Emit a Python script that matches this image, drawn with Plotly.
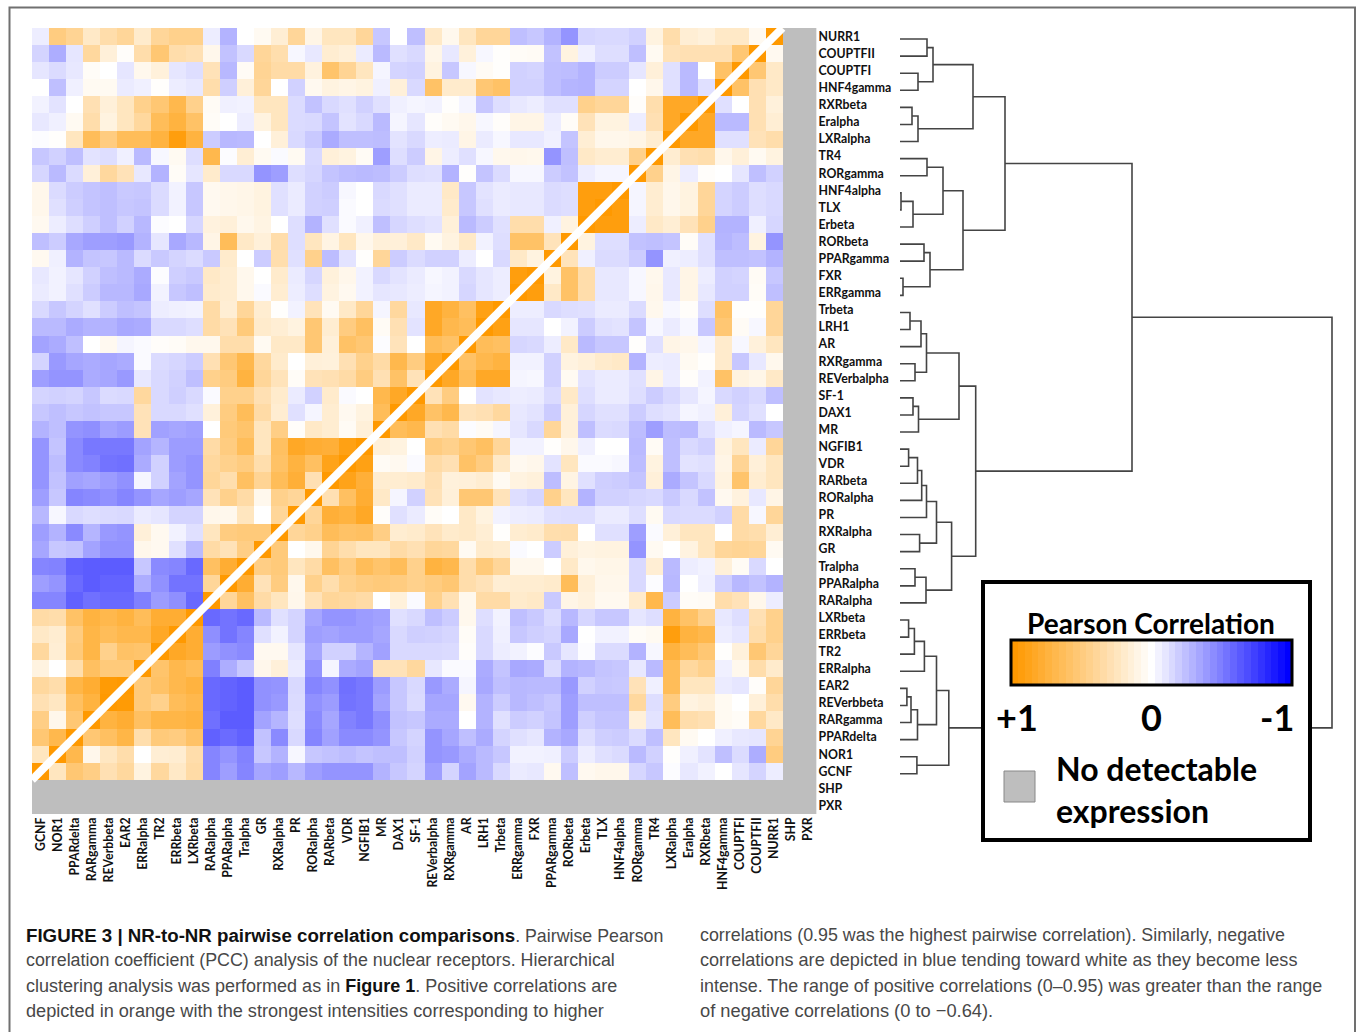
import plotly.graph_objects as go

# ---------- data ----------
row_labels = ["NURR1","COUPTFII","COUPTFI","HNF4gamma","RXRbeta","Eralpha","LXRalpha","TR4","RORgamma",
 "HNF4alpha","TLX","Erbeta","RORbeta","PPARgamma","FXR","ERRgamma","Trbeta","LRH1","AR","RXRgamma",
 "REVerbalpha","SF-1","DAX1","MR","NGFIB1","VDR","RARbeta","RORalpha","PR","RXRalpha","GR","Tralpha",
 "PPARalpha","RARalpha","LXRbeta","ERRbeta","TR2","ERRalpha","EAR2","REVerbbeta","RARgamma","PPARdelta",
 "NOR1","GCNF","SHP","PXR"]
col_labels = ["GCNF","NOR1","PPARdelta","RARgamma","REVerbbeta","EAR2","ERRalpha","TR2","ERRbeta","LXRbeta",
 "RARalpha","PPARalpha","Tralpha","GR","RXRalpha","PR","RORalpha","RARbeta","VDR","NGFIB1","MR","DAX1","SF-1",
 "REVerbalpha","RXRgamma","AR","LRH1","Trbeta","ERRgamma","FXR","PPARgamma","RORbeta","Erbeta","TLX",
 "HNF4alpha","RORgamma","TR4","LXRalpha","Eralpha","RXRbeta","HNF4gamma","COUPTFI","COUPTFII","NURR1","SHP","PXR"]

# correlation x100, upper-left triangle, read row by row (mirrored across the diagonal)
tri = [
 [-7,50,42,22,33,40,20,40,45,45,-7,-30,0,5,17,40,10,25,25,40,-22,0,-25,22,7,25,40,40,-25,-22,-30,-42,-16,-15,-15,-18,12,33,17,14,22,22,6],
 [-17,-32,-10,38,15,2,33,55,33,30,8,-24,-15,40,32,-3,-9,18,15,-8,-27,-12,-15,9,-9,14,-3,1,3,4,-24,12,-6,-13,-13,-25,5,28,30,30,30,55],
 [-10,-14,-9,3,0,-10,7,14,-10,-13,28,-28,4,42,35,35,13,58,42,25,-4,-17,-18,12,-22,-3,4,1,-18,-17,-25,-26,-30,-20,-20,-10,15,-12,-27,0,60],
 [0,-25,-6,5,5,-8,-6,1,-7,-9,33,-19,15,40,0,-18,6,12,10,12,-6,15,-15,60,20,20,55,60,-18,-18,-25,-29,-30,-17,-17,0,8,-12,-27,-12],
 [-5,-11,0,30,15,25,45,55,70,45,4,-6,-5,25,25,-14,-24,-15,-12,-18,-12,-6,-4,-5,1,-4,-22,-13,-9,-7,-12,-12,45,40,40,2,32,85,85],
 [-9,-6,5,33,12,25,38,65,75,60,3,0,-7,12,25,-14,-15,-23,-11,-15,-27,-4,-10,2,5,8,-3,2,10,10,-7,3,28,12,12,-7,30,85],
 [-1,1,25,65,50,65,65,75,95,75,-20,-28,-27,0,15,-15,-21,-33,-25,-25,-26,-11,-15,-7,-8,10,-8,-3,-9,-9,-6,-23,17,8,8,10,18],
 [-22,-18,-25,-11,-13,-6,-27,-3,5,-13,70,-1,17,5,-2,5,-15,15,12,4,-38,-13,-20,10,-7,-12,-3,7,8,7,-42,-25,22,18,18,45],
 [-16,-27,-14,15,38,28,-9,-30,3,-10,20,-15,-15,-42,-38,-13,-16,-23,-26,-27,-26,-20,-13,-12,-30,1,-23,-14,-3,-3,-20,-24,-7,-4,-4],
 [8,-14,-20,-23,-25,-21,-22,-14,-5,-22,6,8,9,12,-12,-8,-18,-20,-3,0,-15,-12,-8,-8,22,-22,-11,-8,-9,-9,-14,-13,95,95],
 [8,-12,-19,-23,-25,-22,-23,-14,-5,-22,6,8,9,12,-12,-8,-18,-19,-2,0,-14,-12,-8,-8,20,-22,-12,-8,-9,-9,-14,-13,95],
 [6,-7,-13,-19,-25,-18,-28,-1,0,-16,13,15,7,11,0,-13,-30,-12,-2,-6,-25,-16,-13,-11,15,-27,-20,-12,33,33,-6,12],
 [-25,-20,-34,-38,-38,-40,-30,-10,-34,-28,10,65,22,15,33,-13,25,11,25,8,15,15,22,5,12,22,-5,-13,60,60,27],
 [6,-6,-30,-23,-22,-27,-14,-21,-17,-14,-21,20,0,-20,32,-12,45,-26,-11,1,40,-20,-14,-18,-18,-7,0,-15,22,12],
 [-9,-5,-10,-18,-25,-27,-33,-1,-19,-21,22,18,7,0,20,-8,-16,14,8,-5,-15,-11,-8,-3,-5,-15,-10,-7,95],
 [-8,-5,-12,-20,-28,-28,-34,-5,-22,-25,20,18,7,-2,18,-7,-13,12,6,-5,-10,-9,-7,-4,-5,-16,-10,-7],
 [-15,-22,-17,-12,-20,-25,-23,-7,-6,-5,35,17,40,18,1,-5,27,5,22,40,-4,38,-9,85,75,62,92],
 [-27,-27,-33,-30,-30,-34,-33,-15,-15,-13,35,28,52,20,17,12,55,18,50,62,4,30,-11,85,70,65],
 [-36,-33,-25,0,6,-4,-2,2,3,7,7,33,33,5,22,22,55,15,60,55,-1,27,0,65,60],
 [-17,-40,-35,-33,-35,-33,-2,-14,-16,-20,30,55,70,38,20,0,15,14,30,45,35,70,50,85],
 [-38,-42,-42,-33,-35,-40,-9,-15,-18,-25,45,50,75,40,27,3,28,30,35,50,30,60,28],
 [-17,-18,-17,-22,-14,-15,38,-15,-19,-15,-2,45,45,30,20,-8,-18,20,-2,0,70,85],
 [-22,-25,-22,-24,-22,-22,28,-15,-15,-12,14,50,65,35,18,-12,-4,18,6,12,65],
 [-30,-25,-42,-44,-36,-39,28,-37,-35,-37,0,52,58,25,48,2,22,18,4,15],
 [-42,-23,-46,-53,-53,-53,-36,-29,-39,-39,35,50,65,25,62,85,80,78,92],
 [-42,-26,-46,-49,-55,-56,-33,-18,-39,-42,38,45,50,32,60,75,62,90],
 [-42,-24,-37,-35,-39,-43,-4,-18,-36,-42,40,32,62,42,65,78,30],
 [-38,-22,-48,-46,-43,-48,-42,-35,-38,-35,28,45,35,7,45,40],
 [-28,-3,-15,-13,-14,-15,-8,-10,-17,-17,8,7,25,0,40],
 [-38,-30,-46,-29,-40,-42,15,6,-5,-12,25,50,52,52],
 [-35,-22,-24,-36,-43,-43,8,6,-12,-27,35,28,48],
 [-48,-49,-62,-64,-64,-64,-22,-46,-48,-59,62,80],
 [-38,-42,-58,-64,-61,-61,-32,-43,-55,-55,40],
 [-48,-48,-62,-56,-59,-59,-50,-39,-44,-59],
 [35,33,60,75,70,75,65,80,80],
 [22,18,50,72,65,70,70,85],
 [38,17,52,72,45,60,58],
 [12,0,32,62,52,52],
 [38,33,72,80,98],
 [30,24,62,75],
 [48,8,55],
 [55,70],
 [25],
 [],
]

# dendrogram: (child a, child b, merge height); ints are leaf rows, strings are earlier merges
merges = {
 "A":(0,1,27),"B":(2,3,18),"C":("A","B",33),"D":(4,5,12),"E":("D",6,18),"F":("C","E",73),
 "G":(7,8,27),"H":(9,10,1),"I":("H",11,13),"J":("G","I",43),"K":(12,13,24),"L":(14,15,3),
 "M":("K","L",30),"N":("J","M",63),"O":("F","N",105),
 "P":(16,17,10),"Q":("P",18,21),"R":(19,20,15),"S":("Q","R",26.5),"T":(21,22,13),"U":("T",23,18.5),
 "V":("S","U",59),"W":(24,25,8.6),"X":("W",26,17.5),"Y":("X",27,21.7),"Z":("Y",28,26.5),
 "AA":(29,30,19.6),"AB":("Z","AA",36.5),"AC":(31,32,15),"AD":("AC",33,26),"AE":("AB","AD",51.6),
 "AF":("V","AE",75.7),"AG":("O","AF",232),
 "AH":(34,35,8.6),"AI":("AH",36,14.4),"AJ":("AI",37,24.4),"AK":(38,39,6.9),"AL":("AK",40,11),
 "AM":("AL",41,17.5),"AN":("AJ","AM",36.5),"AO":(42,43,16.9),"AP":("AN","AO",48.8),"AQ":("AG","AP",432),
}

legend_steps = [100,95,90,85,80,75,70,65,60,55,50,45,40,35,30,25,20,15,10,5,0,
                -5,-10,-15,-20,-25,-30,-35,-40,-45,-50,-55,-60,-65,-70,-75,-80,-85,-90,-95,-100]

caption_left = [
 [("FIGURE 3 | NR-to-NR pairwise correlation comparisons", True, 18.7), (". Pairwise Pearson", False, 17.8)],
 [("correlation coefficient (PCC) analysis of the nuclear receptors. Hierarchical", False, 17.85)],
 [("clustering analysis was performed as in ", False, 18), ("Figure 1", True, 18), (". Positive correlations are", False, 18)],
 [("depicted in orange with the strongest intensities corresponding to higher", False, 18.15)],
]
caption_right = [
 ("correlations (0.95 was the highest pairwise correlation). Similarly, negative", 17.85),
 ("correlations are depicted in blue tending toward white as they become less", 18.1),
 ("intense. The range of positive correlations (0–0.95) was greater than the range", 17.9),
 ("of negative correlations (0 to −0.64).", 18.3),
]

# ---------- layout helpers ----------
W, H = 1357, 1032
def px(x): return x / W
def py(y): return 1 - y / H

N = len(row_labels)
M = 44
z = [[None] * N for _ in range(N)]
for r, vals in enumerate(tri):
    z[r][M - 1 - r] = 100
    for c, v in enumerate(vals):
        z[r][c] = v
        z[M - 1 - c][M - 1 - r] = v

ORANGE = "#FF9900"
scale = [[0, "#0000FF"], [0.5, "#FFFFFF"], [1, ORANGE]]
GREY = "#BEBEBE"
LABEL_FONT = dict(family="Lato", size=12.3, color="#111111", weight="bold")

fig = go.Figure()
fig.add_trace(go.Heatmap(z=z, x=list(range(N)), y=list(range(N)), colorscale=scale, zmin=-100, zmax=100,
                         showscale=False, hoverongaps=False))

# dendrogram
pos = {}
xs, ys = [], []
def place(k):
    return (k, 0) if isinstance(k, int) else pos[k]
for name, (a, b, h) in merges.items():
    ya, ha = place(a)
    yb, hb = place(b)
    xs += [ha, h, h, hb, None]
    ys += [ya, ya, yb, yb, None]
    pos[name] = ((ya + yb) / 2, h)
fig.add_trace(go.Scatter(x=xs, y=ys, mode="lines", xaxis="x2", yaxis="y2",
                         line=dict(color="#444444", width=1.6), hoverinfo="skip", showlegend=False))

# legend panel (white box hiding the dendrogram) and its gradient
fig.add_trace(go.Scatter(x=[0, 1, 1, 0, 0], y=[0, 0, 1, 1, 0], mode="lines", xaxis="x3", yaxis="y3",
                         fill="toself", fillcolor="white", line=dict(color="white", width=0),
                         hoverinfo="skip", showlegend=False))
fig.add_trace(go.Heatmap(z=[legend_steps], x=legend_steps, y=[0], xaxis="x4", yaxis="y4", colorscale=scale,
                         zmin=-100, zmax=100, showscale=False, hoverinfo="skip"))

fig.update_layout(
    width=W, height=H, margin=dict(l=0, r=0, t=0, b=0, pad=0, autoexpand=False),
    paper_bgcolor="white", plot_bgcolor="white", showlegend=False,
    xaxis=dict(domain=[px(32), px(816.6)], range=[-0.5, N - 0.5], tickmode="array", tickvals=list(range(N)),
               ticktext=col_labels, tickangle=-90, side="bottom", anchor="y", showgrid=False, zeroline=False,
               ticks="", showline=False, tickfont=LABEL_FONT),
    yaxis=dict(domain=[py(814), py(28)], range=[N - 0.5, -0.5], tickmode="array", tickvals=list(range(N)),
               ticktext=row_labels, side="right", anchor="x", showgrid=False, zeroline=False,
               ticks="", showline=False, tickfont=LABEL_FONT, ticklabelstandoff=1),
    xaxis2=dict(domain=[px(900), px(1340)], range=[0, 440], anchor="y2", visible=False),
    yaxis2=dict(domain=[py(816.5), py(30.5)], range=[N - 0.5, -0.5], anchor="x2", visible=False),
    xaxis3=dict(domain=[px(983), px(1310)], range=[0, 1], anchor="y3", visible=False),
    yaxis3=dict(domain=[py(840), py(582)], range=[0, 1], anchor="x3", visible=False),
    xaxis4=dict(domain=[px(1011), px(1292)], range=[102.5, -102.5], anchor="y4", visible=False),
    yaxis4=dict(domain=[py(685), py(640)], range=[-0.5, 0.5], anchor="x4", visible=False),
)

# grey = no detectable expression, behind the heatmap
fig.add_shape(type="rect", x0=-0.5, x1=N - 0.5, y0=-0.5, y1=N - 0.5, xref="x", yref="y",
              fillcolor=GREY, line=dict(width=0), layer="below")
# diagonal
fig.add_shape(type="line", x0=-0.5, x1=M - 0.5, y0=M - 0.5, y1=-0.5, xref="x", yref="y",
              line=dict(color="white", width=8), layer="above")

def paper_rect(x0, y0, x1, y1, **kw):
    fig.add_shape(type="rect", xref="paper", yref="paper", x0=px(x0), x1=px(x1), y0=py(y1), y1=py(y0), **kw)

NONE = "rgba(0,0,0,0)"
paper_rect(9.5, 7.5, 1355, 1100, line=dict(color="#707070", width=2), fillcolor=NONE, layer="below")  # outer frame
paper_rect(983, 582, 1310, 840, line=dict(color="black", width=4), fillcolor=NONE, layer="above")     # legend box
paper_rect(1011, 640, 1292, 685, line=dict(color="black", width=3), fillcolor=NONE, layer="above")
paper_rect(1004, 771, 1035, 802, line=dict(color="#888888", width=1), fillcolor=GREY, layer="above")

def text(x, y, s, size, anchor="left", bold=False, family="Lato", color="black"):
    shift = -2 if anchor == "left" else 0
    fig.add_annotation(x=px(x + shift), y=py(y), xref="paper", yref="paper", text=s, showarrow=False,
                       xanchor=anchor, yanchor="middle", align=anchor,
                       font=dict(family=family, size=size, color=color, weight="bold" if bold else "normal"))

text(1151, 623, "Pearson Correlation", 28, "center", True)
text(1017, 717, "+1", 36, "center", True)
text(1151, 717, "0", 36, "center", True)
text(1277, 717, "-1", 36, "center", True)
text(1056, 768, "No detectable", 32, "left", True)
text(1056, 810, "expression", 32, "left", True)

CAP = "Liberation Sans"
CAP_C = "#484848"
for i, parts in enumerate(caption_left):
    s = "".join(
        f'<span style="font-size:{sz}px;color:#111111"><b>{t}</b></span>' if b
        else f'<span style="font-size:{sz}px">{t}</span>'
        for t, b, sz in parts)
    text(26, 935 + i * 25.3, s, 17.8, "left", False, CAP, CAP_C)
for i, (s, sz) in enumerate(caption_right):
    text(700, 935 + i * 25.3, s, sz, "left", False, CAP, CAP_C)

fig.write_html("out.html", config={"displayModeBar": False},
               post_script="document.body.style.margin='0';document.documentElement.style.overflow='hidden';")
